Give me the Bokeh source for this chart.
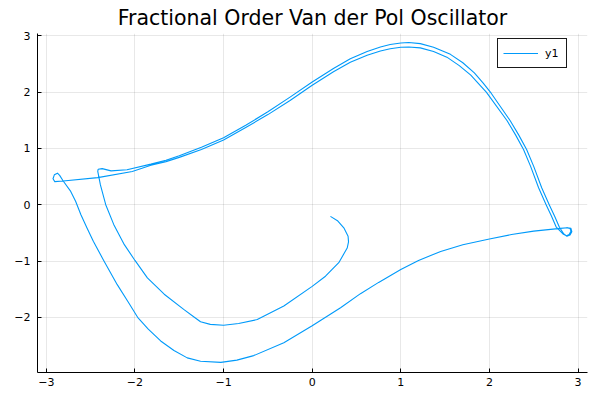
from bokeh.plotting import figure
from bokeh.models import ColumnDataSource, Range1d, FixedTicker
from bokeh.embed import file_html
from bokeh.resources import INLINE

# trajectory read off the phase portrait, split into four arcs
# arc 1: start point -> inner lower arc -> cusp on the left
arc1_x = [0.206, 0.29, 0.357, 0.405, 0.41, 0.395, 0.30, 0.15, 0.0, -0.32, -0.62, -0.83, -1.0,
          -1.15, -1.26, -1.33, -1.45, -1.67, -1.86, -2.0, -2.12, -2.24, -2.33, -2.39,
          -2.42, -2.415]
arc1_y = [-0.207, -0.29, -0.41, -0.56, -0.66, -0.77, -1.03, -1.27, -1.45, -1.80, -2.04, -2.11,
          -2.14, -2.125, -2.08, -2.0, -1.86, -1.59, -1.30, -0.99, -0.71, -0.35, 0.0, 0.35,
          0.59, 0.63]
# arc 2: first upper arc -> drop -> small loop bottom right
arc2_x = [-2.37, -2.27, -2.09, -1.82, -1.65, -1.5, -1.25, -1.0, -0.75, -0.5, -0.25, 0.0, 0.24,
          0.43, 0.62, 0.77, 0.88, 1.0, 1.09, 1.22, 1.37, 1.56, 1.70, 1.83, 1.93, 2.02,
          2.235, 2.33, 2.42, 2.50, 2.59, 2.675, 2.735, 2.79, 2.84, 2.875, 2.91, 2.93, 2.92,
          2.88, 2.80]
arc2_y = [0.64, 0.60, 0.62, 0.72, 0.79, 0.87, 1.02, 1.19, 1.41, 1.65, 1.91, 2.18, 2.42,
          2.59, 2.72, 2.80, 2.845, 2.87, 2.88, 2.86, 2.795, 2.67, 2.52, 2.34, 2.16, 1.98,
          1.49, 1.24, 0.98, 0.68, 0.30, 0.0, -0.2, -0.40, -0.52, -0.56, -0.54, -0.48, -0.42,
          -0.41, -0.42]
# arc 3: outer lower arc -> small loop on the left
arc3_x = [2.50, 2.25, 2.0, 1.7, 1.45, 1.2, 1.0, 0.75, 0.545, 0.32, 0.0, -0.32, -0.66, -0.85,
          -1.03, -1.26, -1.41, -1.56, -1.71, -1.85, -1.97, -2.08, -2.20, -2.35, -2.47,
          -2.54, -2.61, -2.67, -2.725, -2.81, -2.85, -2.875, -2.91, -2.925, -2.905]
arc3_y = [-0.47, -0.53, -0.61, -0.71, -0.83, -0.99, -1.15, -1.38, -1.58, -1.83, -2.15, -2.45,
          -2.68, -2.76, -2.80, -2.78, -2.72, -2.59, -2.42, -2.21, -2.0, -1.72, -1.42, -1.0,
          -0.65, -0.42, -0.18, 0.06, 0.236, 0.42, 0.52, 0.56, 0.53, 0.46, 0.41]
# arc 4: second upper arc -> drop -> loop bottom right (end)
arc4_x = [-2.81, -2.42, -2.03, -1.82, -1.65, -1.5, -1.25, -1.0, -0.75, -0.5, -0.25, 0.0, 0.24,
          0.43, 0.62, 0.77, 0.88, 1.0, 1.09, 1.22, 1.37, 1.52, 1.66, 1.79, 1.895, 1.965,
          2.20, 2.295, 2.385, 2.465, 2.555, 2.64, 2.70, 2.755, 2.83, 2.87, 2.90, 2.92, 2.91,
          2.87]
arc4_y = [0.42, 0.48, 0.59, 0.70, 0.765, 0.84, 0.98, 1.15, 1.37, 1.60, 1.85, 2.12, 2.36,
          2.53, 2.655, 2.73, 2.77, 2.795, 2.80, 2.785, 2.72, 2.62, 2.47, 2.30, 2.12, 2.0,
          1.49, 1.24, 0.98, 0.68, 0.30, 0.0, -0.2, -0.40, -0.52, -0.55, -0.53, -0.47, -0.42,
          -0.41]

x_ticks = [-3, -2, -1, 0, 1, 2, 3]
y_ticks = [-2, -1, 0, 1, 2, 3]

fonte = "DejaVu Sans"
azul = "#009AFA"

dados = ColumnDataSource(data=dict(x=arc1_x + arc2_x + arc3_x + arc4_x,
                                   y=arc1_y + arc2_y + arc3_y + arc4_y))

p = figure(width=600, height=400, x_range=Range1d(-3.10, 3.107), y_range=Range1d(-2.98, 3.04),
           output_backend="svg", toolbar_location=None,
           min_border_left=37, min_border_right=13, min_border_top=32, min_border_bottom=28)
p.outline_line_color = None
p.background_fill_color = "white"
p.border_fill_color = "white"

p.line(x="x", y="y", source=dados, color=azul, line_width=1.1, line_join="round",
       legend_label="y1")

# title
p.title.text = "Fractional Order Van der Pol Oscillator"
p.title.text_font = fonte
p.title.text_font_size = "20.5px"
p.title.text_font_style = "normal"
p.title.text_color = "black"
p.title.align = "center"
p.title.standoff = 7

# axes and grid
p.xaxis.ticker = FixedTicker(ticks=x_ticks)
p.yaxis.ticker = FixedTicker(ticks=y_ticks)
p.xaxis.major_label_overrides = {t: str(t).replace("-", "\u2212") for t in x_ticks}
p.yaxis.major_label_overrides = {t: str(t).replace("-", "\u2212") for t in y_ticks}
for eixo in (p.xaxis, p.yaxis):
    eixo.axis_line_color = "black"
    eixo.axis_line_width = 1
    eixo.major_tick_in = 4
    eixo.major_tick_out = 0
    eixo.major_tick_line_color = "black"
    eixo.minor_tick_line_color = None
    eixo.major_label_text_font = fonte
    eixo.major_label_text_font_size = "11px"
    eixo.major_label_text_color = "black"
p.xaxis.major_label_standoff = 5
p.yaxis.major_label_standoff = 7
p.grid.grid_line_color = "black"
p.grid.grid_line_alpha = 0.09
p.grid.grid_line_width = 1

# legend
p.legend.location = (460, 304)
p.legend.border_line_color = "black"
p.legend.border_line_width = 1
p.legend.border_line_alpha = 0.9
p.legend.background_fill_color = "white"
p.legend.background_fill_alpha = 1
p.legend.padding = 5
p.legend.margin = 0
p.legend.spacing = 0
p.legend.glyph_width = 35
p.legend.glyph_height = 18
p.legend.label_standoff = 7
p.legend.label_width = 16
p.legend.label_text_font = fonte
p.legend.label_text_font_size = "11px"
p.legend.label_text_color = "black"

open("out.html", "w").write(file_html(p, INLINE))
